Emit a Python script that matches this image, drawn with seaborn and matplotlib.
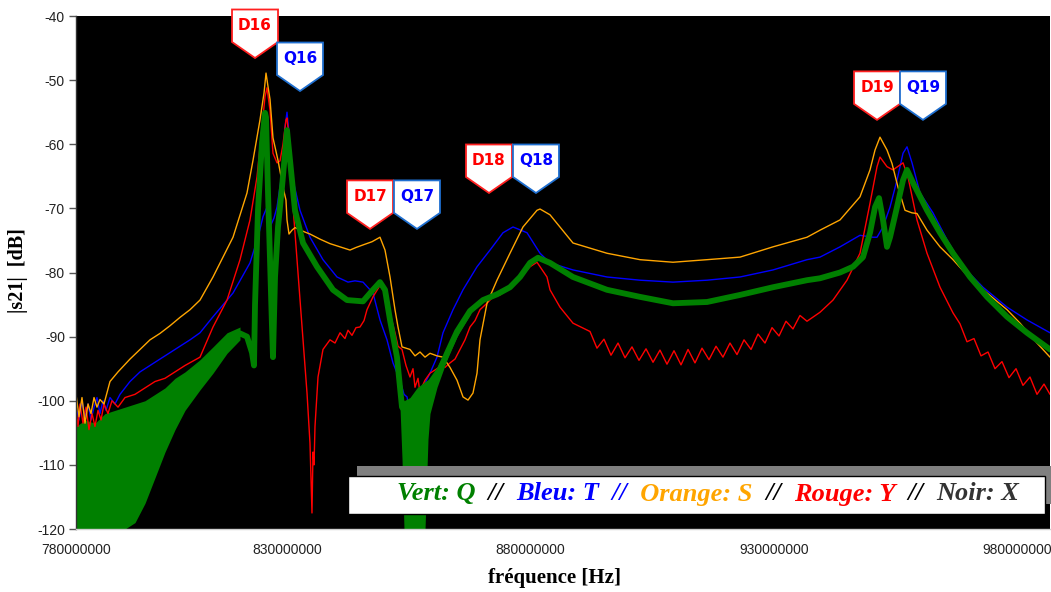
import numpy as np
import matplotlib
matplotlib.use("Agg")
import matplotlib.pyplot as plt
import matplotlib.transforms as mtransforms
from matplotlib.patches import Polygon, Rectangle
from matplotlib.offsetbox import TextArea, HPacker, AnnotationBbox
import seaborn as sns

# ---------------------------------------------------------------- data (MHz, dB)
# Blue trace: T
freq_t = [786.66, 787.28, 787.89, 788.51, 789.13, 789.74, 790.36, 790.97, 791.59, 792.21,
          792.82, 793.64, 794.67, 795.70, 797.75, 799.81, 801.86, 803.91, 805.97, 808.02,
          810.08, 812.13, 814.80, 818.91, 822.40, 824.04, 825.07, 825.89, 826.51, 827.33,
          827.95, 828.97, 829.59, 830.00, 830.41, 831.23, 832.67, 834.72, 837.39, 840.27,
          842.53, 843.97, 845.61, 847.66, 849.10, 850.54, 851.77, 853.21, 854.03, 854.65,
          855.26, 855.67, 856.29, 856.70, 857.32, 857.93, 859.37, 860.81, 862.04, 864.10,
          866.15, 869.03, 871.70, 874.37, 876.42, 879.30, 881.97, 884.02, 888.74, 895.73,
          902.51, 909.28, 916.27, 923.05, 929.82, 936.81, 939.48, 943.59, 947.69, 950.36,
          951.19, 952.42, 953.86, 955.29, 956.53, 957.35, 958.38, 960.02, 962.69, 965.56,
          968.85, 972.96, 977.89, 982.00, 986.72]
db_t = [-101, -103, -100, -102.5, -100.5, -103, -101, -99.5, -102, -100,
        -101.5, -99.5, -100.5, -99, -97, -95.5, -94.5, -93.5, -92.5, -91.5,
        -90.5, -89.4, -86.9, -83.2, -78.5, -74.5, -71.3, -69.8, -72.9, -71.5,
        -69.8, -64.5, -57.3, -55, -58.3, -65.6, -70.3, -74.5, -78, -80.7,
        -81.5, -81.3, -81.5, -83.2, -87.4, -90.5, -94.1, -96.8, -99, -99.4,
        -102, -101, -102.5, -100.4, -99.5, -97.9, -95.7, -93.2, -89.4, -85.8,
        -82.7, -79.1, -76.5, -73.8, -72.9, -73.8, -77, -78.5, -79.6, -80.7,
        -81.2, -81.5, -81.2, -80.7, -79.6, -78, -77.6, -76, -74.2, -74.5,
        -74.5, -72.9, -69.8, -65.6, -61.4, -60.4, -62.9, -67.6, -70.7, -74.9,
        -79.1, -82.3, -85.4, -87.4, -89.4]

# Orange trace: S
freq_s = [786.66, 787.28, 787.89, 788.51, 789.13, 789.74, 790.36, 790.97, 791.59, 792.41,
          793.64, 795.29, 797.75, 799.81, 801.86, 803.91, 805.97, 808.02, 810.08, 812.13,
          814.80, 818.91, 821.78, 823.02, 824.45, 825.28, 825.69, 826.10, 826.51, 827.12,
          828.15, 829.18, 829.79, 830.00, 830.41, 831.03, 831.64, 833.70, 834.72, 836.78,
          838.83, 840.89, 842.94, 844.17, 845.61, 847.46, 849.10, 850.13, 851.16, 852.18,
          852.80, 853.62, 855.26, 856.29, 857.32, 858.35, 859.37, 860.81, 862.04, 863.48,
          864.92, 866.15, 867.18, 868.20, 869.03, 869.64, 871.08, 873.13, 875.80, 878.47,
          881.35, 881.97, 884.02, 888.74, 895.73, 902.51, 909.28, 916.27, 923.05, 929.82,
          936.81, 939.48, 943.59, 947.69, 949.75, 950.78, 951.80, 953.24, 954.27, 955.50,
          956.94, 958.38, 959.40, 961.46, 964.13, 966.80, 969.67, 973.78, 977.89, 980.56,
          984.05, 986.72]
db_s = [-99, -102.5, -99.5, -103.5, -100.5, -102, -99.5, -101, -99.8, -100.5,
        -97, -95.5, -93.5, -92, -90.5, -89.5, -88.3, -87, -85.8, -84.3,
        -80.7, -74.5, -67.6, -62.5, -56.2, -52, -48.9, -51, -53, -59,
        -62.5, -66.7, -68.7, -71.8, -74, -73.4, -73, -73.7, -74, -74.8,
        -75.5, -76, -76.5, -76.1, -75.7, -75.2, -74.5, -76.5, -80.7, -85.8,
        -88.5, -91.6, -92, -93, -92.4, -93.2, -92.6, -93, -93.2, -94.8,
        -96.8, -99.4, -99.9, -98.8, -95.7, -90.5, -84.8, -81.2, -77, -72.9,
        -70.3, -70.1, -71, -75.4, -77, -78, -78.4, -78, -77.6, -76,
        -74.5, -73.4, -71.8, -68.2, -64, -60.9, -58.9, -60.9, -63, -66.7,
        -70.3, -70.7, -70.8, -73.4, -76, -78, -80.4, -83.2, -85.8, -87.9,
        -91, -93.2]

# Red trace: Y
freq_y = [786.66, 787.07, 787.48, 788.10, 788.71, 789.33, 789.95, 790.56, 791.18, 791.80,
          792.41, 793.23, 794.05, 795.29, 796.73, 798.78, 800.83, 802.89, 804.94, 807.00,
          809.05, 812.13, 814.80, 817.68, 820.35, 822.40, 823.84, 824.86, 825.48, 825.89,
          826.51, 827.12, 827.95, 828.56, 829.18, 829.79, 830.00, 830.41, 831.03, 832.05,
          833.08, 834.11, 834.72, 834.93, 835.13, 835.34, 835.55, 835.75, 836.37, 837.39,
          838.83, 839.86, 840.89, 841.91, 842.53, 843.35, 844.17, 844.99, 845.82, 846.43,
          847.66, 849.10, 850.13, 851.16, 852.18, 852.80, 853.62, 854.44, 855.26, 855.88,
          856.29, 856.91, 857.32, 857.93, 858.35, 859.37, 860.40, 861.43, 862.45, 863.48,
          864.51, 865.53, 866.56, 867.59, 868.62, 869.64, 871.08, 872.31, 873.75, 875.19,
          876.42, 877.86, 879.91, 881.35, 883.40, 884.02, 886.07, 888.74,
          892.24, 893.67, 895.11, 896.55, 897.99, 899.43, 900.86, 902.30, 903.74, 905.18,
          906.61, 908.05, 909.49, 910.93, 912.37, 913.80, 915.24, 916.68, 918.12, 919.55,
          920.99, 922.43, 923.87, 925.31, 926.74, 928.18, 929.62, 931.06, 932.49, 933.93,
          935.37, 936.81, 939.48, 942.15, 945.02, 947.69, 949.75, 951.19, 951.80, 953.24,
          954.47, 956.53, 957.55, 959.40, 961.46, 964.13, 966.80, 968.23, 969.67, 971.11,
          972.55, 973.99, 975.42, 976.86, 978.30, 979.74, 981.17, 982.61, 984.05, 985.49,
          986.72]
db_y = [-101.5, -104, -100.5, -103.5, -101, -104.5, -102, -104, -101.5, -103,
        -100.5, -102, -100, -101, -99.5, -99, -98, -97, -96.5, -95.5,
        -94.5, -93.2, -88.5, -84.3, -78, -71.8, -65.1, -57.3, -52.6, -51.2,
        -54.7, -61.4, -62.9, -62.6, -60, -56.2, -55.9, -59, -67.6, -78,
        -88.5, -98.8, -106.6, -112, -117.5, -108, -110, -104, -96.3, -92,
        -90.5, -91, -89.4, -90.3, -89, -89.8, -88.6, -88.5, -87.5, -85.8,
        -83.8, -82, -83.2, -86.3, -89.4, -91.5, -92, -94.5, -96.3, -95,
        -97.9, -96.5, -98.8, -97.5, -96.8, -95.7, -95.2, -94.7, -94.8, -94.1,
        -93.5, -92, -90.5, -88.5, -87.5, -85.8, -84.8, -83.8, -83.5, -82.7,
        -81.8, -80.7, -79.1, -78.4, -80.7, -82.7, -85.4, -87.9,
        -89.2, -91.8, -90.4, -92.9, -91.0, -93.3, -91.6, -93.7, -91.9, -94.0,
        -92.1, -94.3, -92.2, -94.4, -92.0, -94.1, -91.8, -93.6, -91.5, -93.2,
        -91.0, -92.8, -90.5, -92.0, -89.6, -91.0, -88.6, -89.9, -87.6, -88.8,
        -86.7, -87.6, -86.2, -84.3, -81.2, -77, -69.2, -63.5, -62, -63.5,
        -64, -62.9, -65.1, -71.8, -77, -82.3, -86.3, -88.0, -90.8, -90.3,
        -93.0, -92.4, -95.0, -93.9, -96.4, -95.0, -97.6, -96.3, -99.0, -97.4,
        -99.0]

# Green trace: Q (thick line)
freq_q = [801.86, 805.97, 810.08, 812.13, 814.80, 817.68, 820.35, 821.78, 822.81, 823.22,
          823.43, 824.04, 824.86, 825.48, 825.69, 826.10, 826.51, 826.92, 827.12, 827.54,
          828.15, 828.97, 829.59, 830.00, 830.62, 831.64, 833.29, 836.16, 839.45, 842.32,
          845.61, 847.66, 849.10, 850.13, 851.16, 852.59, 853.21, 853.62, 854.65, 856.70,
          858.76, 860.81, 862.86, 864.92, 867.59, 870.26, 873.13, 875.80, 877.86, 879.91,
          881.56, 884.02, 888.74, 895.73, 902.51, 909.28, 916.27, 923.05, 929.82, 936.81,
          939.48, 943.59, 946.26, 948.31, 949.75, 950.78, 951.60, 952.42, 953.24, 953.86,
          955.29, 956.53, 957.35, 958.58, 961.46, 964.13, 966.80, 970.29, 973.78, 977.89,
          982.00, 986.72]
db_q = [-104, -100, -96.5, -95.5, -93.6, -91, -89.5, -90, -92.5, -94.5,
        -85, -70.3, -59.8, -55.1, -55.8, -67.6, -78, -88.5, -93.2, -80.7,
        -72.9, -66.7, -61.4, -57.8, -62.5, -70.3, -75.4, -79.1, -82.7, -84.3,
        -84.5, -82.7, -81.5, -82.7, -87.4, -93.2, -97.9, -101, -102, -100,
        -99, -96.2, -92.6, -89.2, -86, -84.3, -83.4, -82.3, -80.7, -78.5,
        -77.7, -78.5, -80.7, -82.7, -83.8, -84.8, -84.6, -83.5, -82.3, -81.2,
        -80.9, -80, -79.1, -77.6, -73.8, -69.8, -68.4, -71.8, -76, -74.5,
        -69.8, -65.6, -64, -66, -70.3, -73.8, -77, -80.7, -83.8, -86.9,
        -89.4, -92]

# Noisy spread of the green trace (low/high envelopes)
q_noise_low_f = [786.66, 788.51, 790.56, 792.62, 794.67, 796.73, 798.78, 800.83, 802.89, 804.94,
                 807.00, 809.05, 812.13, 814.80, 817.68, 820.35]
q_noise_low_lo = [-120, -120, -120, -120, -120, -120, -119, -116, -112, -108,
                  -104.5, -101.5, -98.3, -95.7, -92.6, -90.5]
q_noise_low_hi = [-104, -103, -103.5, -102, -101.5, -101, -100.5, -100, -99, -98,
                  -96.5, -95.5, -93.6, -91.6, -89.4, -88.5]
q_noise_dip_f = [852.59, 853.21, 853.62, 854.03, 855.26, 856.70, 858.35, 858.96, 859.37, 860.81,
                 862.86, 864.92, 867.59]
q_noise_dip_lo = [-94.7, -101, -109, -120, -120, -120, -120, -106, -102, -97.9,
                  -93.6, -90, -86.6]
q_noise_dip_hi = [-93, -97.5, -99, -100, -99.5, -98, -97, -96.7, -96.3, -94.7,
                  -91.6, -88.5, -85.4]

# Mode markers (tip position of each flag)
callout_labels = ["D16", "Q16", "D17", "Q17", "D18", "Q18", "D19", "Q19"]
callout_freq = [823.43, 832.67, 847.05, 856.70, 871.49, 881.14, 951.19, 960.63]
callout_db = [-46.55, -51.7, -73.2, -73.2, -67.6, -67.6, -56.2, -56.2]

# Axis ticks
x_min_mhz, x_max_mhz = 786.66, 986.72
xtick_pos_mhz = [786.66, 830, 880, 930, 980]
xtick_labels = ["780000000", "830000000", "880000000", "930000000", "980000000"]
ytick_values = [-120, -110, -100, -90, -80, -70, -60, -50, -40]

# Legend line: (text, colour)
legend_parts = [("Vert: Q", "#008000"), ("  //  ", "#000000"), ("Bleu: T  //", "#0000FF"),
                ("  Orange: S", "#FFA500"), ("  //  ", "#000000"), ("Rouge: Y", "#FF0000"),
                ("  //  ", "#000000"), ("Noir: X", "#333333")]

# ---------------------------------------------------------------- figure
sns.set_theme(style="white")
plt.rcParams["font.family"] = ["Liberation Sans", "DejaVu Sans"]
plt.rcParams["axes.unicode_minus"] = False

W, H = 1051, 592
fig = plt.figure(figsize=(W / 100, H / 100), dpi=100)
fig.patch.set_facecolor("white")
ax = fig.add_axes([76 / W, (H - 529) / H, 974 / W, 513 / H])
ax.set_facecolor("black")

MHZ = 1e6
to_hz = lambda seq: np.asarray(seq) * MHZ

ax.fill_between(to_hz(q_noise_low_f), q_noise_low_lo, q_noise_low_hi,
                color="#008000", lw=0, zorder=1.5)

sns.lineplot(x=to_hz(freq_t), y=db_t, ax=ax, color="#0000FF", linewidth=1.0,
             estimator=None, sort=False, zorder=2)
sns.lineplot(x=to_hz(freq_y), y=db_y, ax=ax, color="#FF0000", linewidth=1.0,
             estimator=None, sort=False, zorder=2.1)
sns.lineplot(x=to_hz(freq_s), y=db_s, ax=ax, color="#FFA500", linewidth=1.0,
             estimator=None, sort=False, zorder=2.2)

ax.fill_between(to_hz(q_noise_dip_f), q_noise_dip_lo, q_noise_dip_hi,
                color="#008000", lw=0, zorder=2.5)
sns.lineplot(x=to_hz(freq_q), y=db_q, ax=ax, color="#008000", linewidth=4.2,
             estimator=None, sort=False, zorder=3)

ax.set_xlim(x_min_mhz * MHZ, x_max_mhz * MHZ)
ax.set_ylim(-120, -40)
ax.set_xticks(to_hz(xtick_pos_mhz))
ax.set_xticklabels(xtick_labels)
ax.set_yticks(ytick_values)
ax.set_yticklabels([str(v) for v in ytick_values])
ax.tick_params(axis="x", length=0, pad=10, labelsize=10, labelcolor="#222222")
ax.tick_params(axis="y", direction="out", length=5, width=1, color="#555555",
               pad=3, labelsize=10, labelcolor="#222222", left=True)
ax.set_xlabel("")
ax.set_ylabel("")
for side in ("top", "right"):
    ax.spines[side].set_visible(False)
ax.spines["left"].set_color("#333333")
ax.spines["left"].set_linewidth(1)
ax.spines["bottom"].set_color("#d0d0d0")
ax.spines["bottom"].set_linewidth(1)

# Axis titles
fig.text(18 / W, 1 - 271 / H, "|s21|  [dB]", rotation=90, ha="center", va="center",
         family="Liberation Serif", weight="bold", fontsize=14.5, color="black")
fig.text(554 / W, 1 - 578 / H, "fréquence [Hz]", ha="center", va="center",
         family="Liberation Serif", weight="bold", fontsize=15, color="black")

# Flag markers above the resonance peaks
half_w, tip_h, top_h = 0.23, 0.16, 0.485
for lab, f, d in zip(callout_labels, callout_freq, callout_db):
    is_d = lab.startswith("D")
    edge = "#FF2020" if is_d else "#1F6FD0"
    tcol = "#FF0000" if is_d else "#0000FF"
    trans = fig.dpi_scale_trans + mtransforms.ScaledTranslation(f * MHZ, d, ax.transData)
    flag = Polygon([(0, 0), (-half_w, tip_h), (-half_w, top_h), (half_w, top_h), (half_w, tip_h)],
                   closed=True, transform=trans, facecolor="white", edgecolor=edge,
                   linewidth=1.3, zorder=8)
    fig.add_artist(flag)
    txt = plt.Text(0, (tip_h + top_h) / 2, lab, transform=trans, ha="center", va="center",
                   color=tcol, fontsize=11, fontweight="bold", family="DejaVu Sans",
                   zorder=9)
    fig.add_artist(txt)

# Legend box with shadow
shadow = Rectangle((357 / W, 1 - 504 / H), (1060 - 357) / W, 38 / H, transform=fig.transFigure,
                   facecolor="#808080", edgecolor="none", zorder=5)
fig.add_artist(shadow)
box = Rectangle((348 / W, 1 - 514 / H), 697 / W, 38 / H, transform=fig.transFigure,
                facecolor="white", edgecolor="black", linewidth=1, zorder=6)
fig.add_artist(box)
areas = [TextArea(s, textprops=dict(color=c, family="Liberation Serif", weight="bold",
                                    style="italic", fontsize=19))
         for s, c in legend_parts]
pack = HPacker(children=areas, align="baseline", pad=0, sep=0)
ab = AnnotationBbox(pack, (708, H - 494), xycoords="figure pixels", frameon=False,
                    box_alignment=(0.5, 0.5), zorder=7)
fig.add_artist(ab)

fig.savefig("out.png", dpi=100, facecolor="white")
